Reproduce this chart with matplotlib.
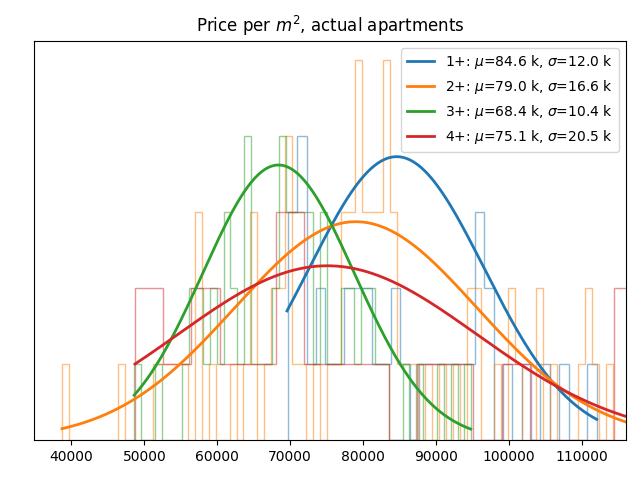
import numpy as np
import matplotlib
matplotlib.use("Agg")
import matplotlib.pyplot as plt

# ---- data ----
groups = ["1+", "2+", "3+", "4+"]
mu = [84.6e3, 79.0e3, 68.4e3, 75.1e3]
sigma = [12.0e3, 16.6e3, 10.4e3, 20.5e3]

# histogram bins: start, width per group
bin_start = [69697, 38738, 48601, 48710]
bin_width = [1282.5, 956.1, 943.7, 3868.2]

counts_1 = [3, 4, 1, 2, 1, 1, 2, 2, 2, 1, 1, 2, 1, 0, 1, 1, 1, 1, 1, 1,
            3, 2, 0, 1, 0, 1, 0, 1, 0, 1, 0, 0, 1]
counts_2 = [1, 0, 0, 0, 0, 0, 0, 0, 1, 0, 0, 0, 0, 1, 1, 1, 1, 1, 0, 3,
            0, 1, 0, 0, 1, 0, 1, 3, 0, 1, 2, 2, 4, 1, 1, 0, 1, 0, 1, 1,
            3, 3, 5, 3, 3, 3, 5, 3, 1, 1, 1, 0, 1, 0, 1, 0, 1, 0, 2, 2,
            0, 0, 1, 0, 2, 1, 0, 0, 2, 0, 1, 0, 0, 0, 1, 2, 1, 0, 1, 0,
            0, 1]
counts_3 = [1, 0, 0, 1, 0, 0, 0, 1, 2, 2, 1, 2, 1, 3, 2, 1, 4, 1, 1, 1,
            2, 4, 3, 3, 3, 3, 1, 3, 1, 1, 2, 2, 1, 2, 2, 1, 1, 0, 0, 1,
            0, 1, 0, 0, 1, 0, 1, 0, 1]
counts_4 = [2, 1, 2, 1, 1, 3, 1, 1, 1, 0, 1, 1, 0, 1, 0, 0, 0, 2]
counts = [counts_1, counts_2, counts_3, counts_4]

# fitted-curve scale (sample size x bin width), and fitted range
curve_area = [112100, 119500, 94300, 117800]
fit_min = [69560, 38700, 48600, 48710]
fit_max = [112040, 117130, 94760, 118300]

colors = ["#1f77b4", "#ff7f0e", "#2ca02c", "#d62728"]

fig = plt.figure(figsize=(6.4, 4.8), dpi=100)
ax = fig.add_axes([0.053, 0.083, 0.925, 0.832])

for i, g in enumerate(groups):
    c = np.array(counts[i], dtype=float)
    edges = bin_start[i] + bin_width[i] * np.arange(len(c) + 1)
    ax.hist(edges[:-1] + bin_width[i] / 2, bins=edges, weights=c,
            histtype="step", color=colors[i], alpha=0.5)

for i, g in enumerate(groups):
    x = np.linspace(fit_min[i], fit_max[i], 300)
    pdf = np.exp(-0.5 * ((x - mu[i]) / sigma[i]) ** 2) / (sigma[i] * np.sqrt(2 * np.pi))
    ax.plot(x, pdf * curve_area[i], color=colors[i], lw=2,
            label=f"{g}: $\\mu$={mu[i]/1e3:.1f} k, $\\sigma$={sigma[i]/1e3:.1f} k")

ax.set_xlim(34856, 116040)
ax.set_ylim(0, 5.25)
ax.set_yticks([])
ax.set_title("Price per $m^2$, actual apartments")
ax.legend(loc="upper right")

fig.savefig("out.png", dpi=100)
